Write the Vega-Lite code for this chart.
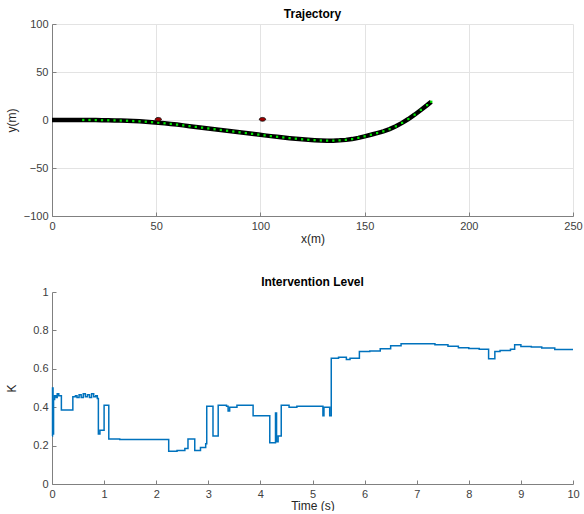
{
  "$schema": "https://vega.github.io/schema/vega-lite/v6.json",
  "padding": {"left": 5, "top": 8, "right": 0, "bottom": 0},
  "config": {
    "font": "Liberation Sans",
    "view": {"stroke": null},
    "axis": {
      "grid": false,
      "labelFlush": false,
      "labelOverlap": false,
      "domainColor": "#808080",
      "tickColor": "#808080",
      "labelColor": "#404040",
      "labelFontSize": 11,
      "titleFontSize": 12,
      "titleFontWeight": "normal",
      "titleColor": "#262626",
      "tickSize": -4,
      "labelPadding": 8,
      "titlePadding": 2,
      "gridColor": "#e3e3e3",
      "labelFont": "Liberation Sans",
      "titleFont": "Liberation Sans"
    },
    "axisY": {"minExtent": 30, "maxExtent": 30, "titlePadding": 4},
    "title": {"fontSize": 12, "fontWeight": "bold", "color": "#000000", "offset": -3, "anchor": "middle", "font": "Liberation Sans"},
    "concat": {"spacing": 32}
  },
  "datasets": {
    "path": [
      {"x": 0, "y": 0}, {"x": 3, "y": 0}, {"x": 6, "y": 0}, {"x": 9, "y": 0}, {"x": 12, "y": 0},
      {"x": 15, "y": 0}, {"x": 18, "y": 0}, {"x": 21, "y": -0.1}, {"x": 24, "y": -0.2}, {"x": 27, "y": -0.3},
      {"x": 30, "y": -0.4}, {"x": 33, "y": -0.6}, {"x": 36, "y": -0.8}, {"x": 39, "y": -1.1}, {"x": 42, "y": -1.4},
      {"x": 45, "y": -1.8}, {"x": 48, "y": -2.3}, {"x": 51, "y": -2.8}, {"x": 54, "y": -3.4}, {"x": 57, "y": -4.1},
      {"x": 60, "y": -4.8}, {"x": 63, "y": -5.6}, {"x": 66, "y": -6.4}, {"x": 69, "y": -7.2}, {"x": 72, "y": -8.0},
      {"x": 75, "y": -8.8}, {"x": 78, "y": -9.6}, {"x": 81, "y": -10.4}, {"x": 84, "y": -11.2}, {"x": 87, "y": -12.0},
      {"x": 90, "y": -12.8}, {"x": 93, "y": -13.6}, {"x": 96, "y": -14.4}, {"x": 99, "y": -15.2}, {"x": 102, "y": -16.0},
      {"x": 105, "y": -16.8}, {"x": 108, "y": -17.5}, {"x": 111, "y": -18.2}, {"x": 114, "y": -18.9}, {"x": 117, "y": -19.5},
      {"x": 120, "y": -20.1}, {"x": 123, "y": -20.6}, {"x": 126, "y": -21.0}, {"x": 129, "y": -21.3}, {"x": 132, "y": -21.5},
      {"x": 135, "y": -21.5}, {"x": 138, "y": -21.2}, {"x": 141, "y": -20.7}, {"x": 144, "y": -19.9}, {"x": 147, "y": -18.6},
      {"x": 150, "y": -17.0}, {"x": 153, "y": -15.4}, {"x": 156, "y": -13.6}, {"x": 159, "y": -11.8}, {"x": 162, "y": -9.5},
      {"x": 165, "y": -6.6}, {"x": 168, "y": -3.0}, {"x": 171, "y": 1.0}, {"x": 174, "y": 5.5}, {"x": 177, "y": 10.5},
      {"x": 180, "y": 15.5}, {"x": 182, "y": 19}
    ],
    "obstacles": [
      {"x": 51, "y": 0.7},
      {"x": 101, "y": 0.7}
    ],
    "intervention": [
      {"t": 0, "k": 0.25}, {"t": 0.01, "k": 0.5}, {"t": 0.02, "k": 0.26}, {"t": 0.03, "k": 0.44},
      {"t": 0.05, "k": 0.46}, {"t": 0.08, "k": 0.45}, {"t": 0.1, "k": 0.47}, {"t": 0.13, "k": 0.46},
      {"t": 0.18, "k": 0.385}, {"t": 0.4, "k": 0.455}, {"t": 0.45, "k": 0.46}, {"t": 0.48, "k": 0.45},
      {"t": 0.52, "k": 0.465}, {"t": 0.56, "k": 0.45}, {"t": 0.6, "k": 0.47}, {"t": 0.64, "k": 0.455},
      {"t": 0.68, "k": 0.465}, {"t": 0.72, "k": 0.45}, {"t": 0.76, "k": 0.47}, {"t": 0.8, "k": 0.455},
      {"t": 0.84, "k": 0.46}, {"t": 0.87, "k": 0.445}, {"t": 0.89, "k": 0.26}, {"t": 0.92, "k": 0.28},
      {"t": 1.0, "k": 0.41}, {"t": 1.09, "k": 0.235}, {"t": 1.3, "k": 0.232}, {"t": 1.6, "k": 0.232},
      {"t": 2.0, "k": 0.232}, {"t": 2.24, "k": 0.17}, {"t": 2.4, "k": 0.175}, {"t": 2.55, "k": 0.185},
      {"t": 2.61, "k": 0.235}, {"t": 2.74, "k": 0.175}, {"t": 2.85, "k": 0.19}, {"t": 2.95, "k": 0.21},
      {"t": 2.97, "k": 0.405}, {"t": 3.09, "k": 0.25}, {"t": 3.19, "k": 0.41}, {"t": 3.35, "k": 0.405},
      {"t": 3.38, "k": 0.38}, {"t": 3.41, "k": 0.4}, {"t": 3.55, "k": 0.41}, {"t": 3.86, "k": 0.355},
      {"t": 4.18, "k": 0.215}, {"t": 4.29, "k": 0.37}, {"t": 4.31, "k": 0.22}, {"t": 4.34, "k": 0.25},
      {"t": 4.4, "k": 0.41}, {"t": 4.55, "k": 0.4}, {"t": 4.7, "k": 0.405}, {"t": 5.2, "k": 0.355},
      {"t": 5.22, "k": 0.4}, {"t": 5.33, "k": 0.355}, {"t": 5.36, "k": 0.655}, {"t": 5.5, "k": 0.66},
      {"t": 5.65, "k": 0.648}, {"t": 5.72, "k": 0.655}, {"t": 5.9, "k": 0.69}, {"t": 6.1, "k": 0.693},
      {"t": 6.3, "k": 0.705}, {"t": 6.5, "k": 0.72}, {"t": 6.7, "k": 0.73}, {"t": 7.35, "k": 0.725},
      {"t": 7.6, "k": 0.718}, {"t": 7.8, "k": 0.71}, {"t": 8.0, "k": 0.706}, {"t": 8.2, "k": 0.702},
      {"t": 8.38, "k": 0.652}, {"t": 8.5, "k": 0.69}, {"t": 8.6, "k": 0.695}, {"t": 8.8, "k": 0.702},
      {"t": 8.88, "k": 0.725}, {"t": 9.0, "k": 0.716}, {"t": 9.2, "k": 0.714}, {"t": 9.4, "k": 0.708},
      {"t": 9.65, "k": 0.7}, {"t": 10.0, "k": 0.7}
    ]
  },
  "vconcat": [
    {
      "title": "Trajectory",
      "width": 521,
      "height": 192,
      "layer": [
        {
          "data": {"name": "path"},
          "mark": {"type": "line", "color": "#000000", "strokeWidth": 4.5, "strokeCap": "butt", "clip": true},
          "encoding": {
            "x": {"field": "x", "type": "quantitative", "scale": {"domain": [0, 250], "nice": false},
                  "axis": {"title": "x(m)", "values": [0, 50, 100, 150, 200, 250], "grid": true}},
            "y": {"field": "y", "type": "quantitative", "scale": {"domain": [-100, 100], "nice": false},
                  "axis": {"title": "y(m)", "values": [-100, -50, 0, 50, 100], "grid": true}},
            "order": {"field": "x"}
          }
        },
        {
          "data": {"name": "path"},
          "transform": [{"filter": "datum.x >= 15"}],
          "mark": {"type": "point", "shape": "square", "filled": true, "color": "#00e600", "size": 5, "opacity": 1},
          "encoding": {
            "x": {"field": "x", "type": "quantitative"},
            "y": {"field": "y", "type": "quantitative"}
          }
        },
        {
          "data": {"name": "obstacles"},
          "mark": {"type": "point", "shape": "M -1 0 A 1 0.6 0 1 0 1 0 A 1 0.6 0 1 0 -1 0 Z", "filled": true, "color": "#9b0000", "stroke": "#000000", "strokeWidth": 0.8, "size": 40, "opacity": 1},
          "encoding": {
            "x": {"field": "x", "type": "quantitative"},
            "y": {"field": "y", "type": "quantitative"}
          }
        }
      ]
    },
    {
      "title": "Intervention Level",
      "width": 521,
      "height": 192,
      "data": {"name": "intervention"},
      "mark": {"type": "line", "interpolate": "step-after", "color": "#0072BD", "strokeWidth": 1.5},
      "encoding": {
        "x": {"field": "t", "type": "quantitative", "scale": {"domain": [0, 10], "nice": false},
              "axis": {"title": "Time (s)", "values": [0, 1, 2, 3, 4, 5, 6, 7, 8, 9, 10], "titlePadding": 1}},
        "y": {"field": "k", "type": "quantitative", "scale": {"domain": [0, 1], "nice": false},
              "axis": {"title": "K", "values": [0, 0.2, 0.4, 0.6, 0.8, 1], "format": ".1~f"}},
        "order": {"field": "t"}
      }
    }
  ]
}
